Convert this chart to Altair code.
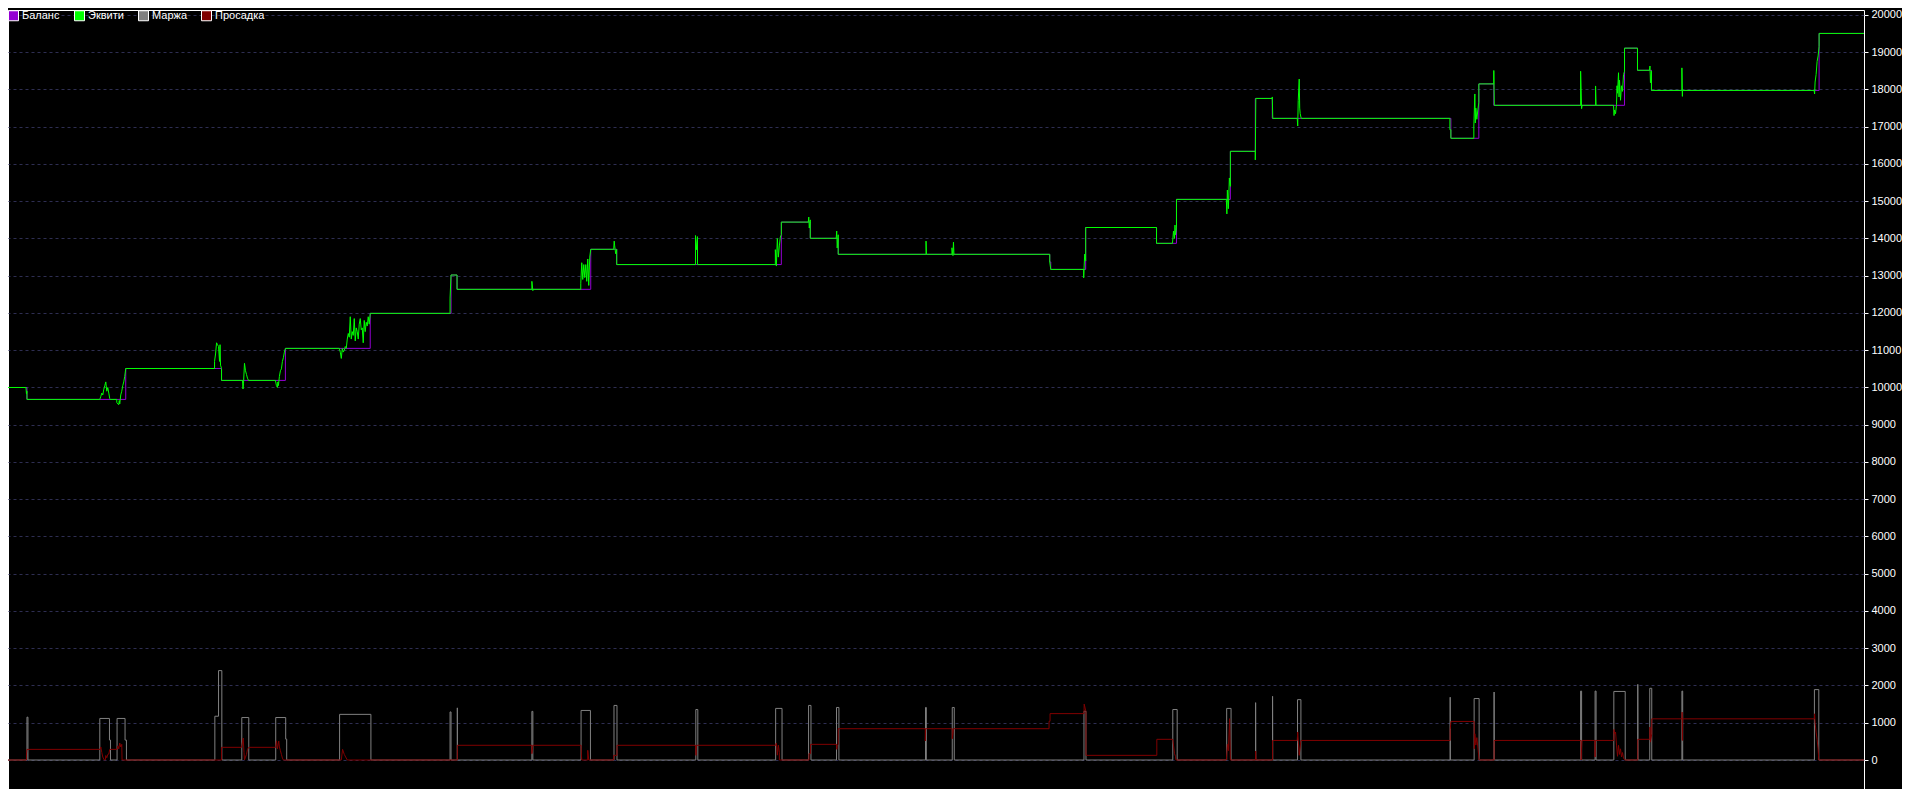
import altair as alt
import pandas as pd

# Series names / colours (legend)
series_names = ["Баланс", "Эквити", "Маржа", "Просадка"]
series_colors = ["#9400D3", "#00FF00", "#808080", "#800000"]

# y-axis tick labels
y_ticks = list(range(0, 20001, 1000))

# Balance: step breakpoints (time index, value)
balance_points = [(1, 10000), (27, 9680), (126, 10510), (222, 10190), (286, 11050), (371, 11990),
                  (452, 13020), (458, 12635), (592, 13710), (618, 13300), (783, 14440), (812, 14005),
                  (840, 13575), (1052, 13370), (1053, 13170), (1088, 14295), (1159, 13870), (1179, 15050),
                  (1233, 16340), (1258, 17760), (1275, 17225), (1454, 16690), (1482, 18150), (1497, 17575),
                  (1628, 19110), (1641, 18515), (1655, 17975), (1823, 19505), (1868, 19505)]

# Equity: path points (time index, value)
equity_points = [
    (1, 10000), (26, 10000), (26.5, 9830), (27, 9900), (27, 9680),
    (100, 9680), (101, 9760), (102, 9850), (103, 9800), (104, 9950), (105, 10050), (106, 10150), (107, 9900),
    (108, 10000), (109, 9850), (110, 9700), (110.5, 9680),
    (117, 9680), (117, 9600), (118, 9560), (119, 9540), (119.5, 9650), (120, 9560), (121, 9800), (122, 9900),
    (123, 10050), (124, 10150), (125, 10300), (126, 10510),
    (215, 10510), (215, 10700), (216, 10900), (217, 11200), (218, 11150), (219, 11100), (220, 10700),
    (220.5, 11150), (221, 10600), (222, 10510), (222, 10190),
    (243, 10190), (243.5, 9960), (244, 10100), (245, 10650), (246, 10450), (247, 10350), (248, 10250), (249, 10190),
    (276, 10190), (277, 10050), (278, 10000), (278.5, 10150), (279, 10050), (280, 10300), (281, 10450),
    (282, 10500), (283, 10700), (284, 10800), (285, 10950), (286, 11050),
    (340, 11050), (341, 10950), (342, 10780), (343, 11050), (344, 10950), (345, 11000), (346, 11100),
    (347, 11050), (348, 11300), (349, 11450), (350, 11350), (351, 11900), (352, 11300), (353, 11500),
    (354, 11400), (355, 11850), (356, 11250), (357, 11600), (358, 11500), (359, 11300), (360, 11700),
    (361, 11850), (362, 11550), (363, 11600), (364, 11200), (365, 11800), (366, 11500), (367, 11750),
    (368, 11650), (369, 11900), (370, 11700), (371, 11990),
    (451, 11990), (451, 12400), (452, 13020), (458, 13020), (458, 12635),
    (533, 12635), (533, 12850), (534, 12600), (534, 12635),
    (582, 12635), (582, 12800), (583, 13350), (584, 12900), (585, 13300), (586, 12950), (587, 13300),
    (588, 12850), (589, 13450), (590, 12740), (591, 13500), (592, 13710),
    (615, 13710), (615.5, 13930), (616, 13800), (617, 13590), (618, 13710), (618, 13300),
    (697, 13300), (697, 14080), (698, 13700), (699, 14050), (699, 13300),
    (777, 13300), (777, 13700), (778, 13260), (779, 14000), (780, 13500), (781, 13800), (782, 14040),
    (783, 14100), (783, 14440),
    (810, 14440), (810.5, 14575), (811, 14280), (812, 14500), (812, 14005),
    (838, 14005), (838.5, 14200), (839, 13745), (840, 14100), (840, 13575),
    (928, 13575), (928, 13930), (928.5, 13575),
    (954, 13575), (954, 13750), (955, 13540), (955.5, 13900), (956, 13575),
    (1052, 13575), (1052, 13370), (1053, 13170),
    (1086, 13170), (1086, 12945), (1087, 13580), (1088, 13400), (1088, 14295),
    (1159, 14295), (1159, 13870),
    (1175, 13870), (1176, 14200), (1177, 14000), (1177.5, 14360), (1178, 14100), (1179, 14300), (1179, 15050),
    (1229, 15050), (1229.5, 14660), (1230, 15300), (1231, 14800), (1232, 15625), (1233, 15400), (1233, 16340),
    (1258, 16340), (1258, 16110), (1258.5, 17760),
    (1275, 17760), (1275, 17800), (1275.5, 17225),
    (1300, 17225), (1300.5, 17020), (1301, 17700), (1302, 18280), (1302.5, 17500), (1303, 17350), (1304, 17225),
    (1453, 17225), (1453, 16920), (1454, 16920), (1454, 16690),
    (1477, 16690), (1477, 17020), (1478, 17880), (1478.5, 17100), (1479, 17500), (1480, 17200),
    (1481, 17450), (1482, 17650), (1482, 18150),
    (1497, 18150), (1497, 18510), (1497.5, 17575),
    (1584, 17575), (1584, 18490), (1585, 17485), (1585.5, 17575),
    (1599, 17575), (1599, 18095), (1599.5, 17575),
    (1617, 17575), (1617.5, 17300), (1618, 17450), (1619, 17350), (1620, 17600), (1620.5, 18100),
    (1621, 17900), (1622, 18450), (1622.5, 17800), (1623, 18250), (1624, 17710), (1625, 18100),
    (1626, 17950), (1627, 18400), (1628, 18490), (1628, 19110),
    (1641, 19110), (1641, 18515),
    (1653, 18515), (1653.5, 18630), (1654, 18180), (1655, 18500), (1655, 17975),
    (1685.5, 17975), (1685.5, 18580), (1686, 17815), (1686, 17975),
    (1818, 17975), (1818.5, 17880), (1819, 18200), (1820, 18400), (1821, 18750), (1822, 18900),
    (1823, 19150), (1823, 19505),
    (1868, 19505)]

# Margin: path points (time index, value)
margin_points = [
    (1, 0), (27, 0), (27, 1150), (28, 1150), (28, 0),
    (100, 0), (100, 1115), (109.7, 1115), (109.7, 535), (110.7, 535), (110.7, 0),
    (117.3, 0), (117.3, 1115), (125.3, 1115), (125.3, 535), (126.7, 535), (126.7, 0),
    (215.3, 0), (215.3, 1175), (219, 1175), (219, 2400), (222.3, 2400), (222.3, 0),
    (242.3, 0), (242.3, 1140), (249.3, 1140), (249.3, 0),
    (276.3, 0), (276.3, 1140), (286.3, 1140), (286.3, 560), (287.3, 560), (287.3, 0),
    (340.3, 0), (340.3, 1225), (371.7, 1225), (371.7, 0),
    (451, 0), (451, 1290), (452, 1290), (452, 0),
    (458.3, 0), (458.3, 1400), (458.4, 0),
    (533, 0), (533, 1305), (534, 1305), (534, 0),
    (582.3, 0), (582.3, 1330), (591.7, 1330), (591.7, 0),
    (615.3, 0), (615.3, 1465), (618.3, 1465), (618.3, 0),
    (697.3, 0), (697.3, 1355), (699.3, 1355), (699.3, 0),
    (777.3, 0), (777.3, 1385), (783.7, 1385), (783.7, 0),
    (810.3, 0), (810.3, 1465), (812.7, 1465), (812.7, 0),
    (838.3, 0), (838.3, 1410), (840.7, 1410), (840.7, 0),
    (927.5, 0), (927.5, 1410), (928.3, 1410), (928.3, 0),
    (954.3, 0), (954.3, 1410), (956.3, 1410), (956.3, 0),
    (1086.3, 0), (1086.3, 1310), (1088.3, 1310), (1088.3, 0),
    (1175.3, 0), (1175.3, 1355), (1179.7, 1355), (1179.7, 0),
    (1229.3, 0), (1229.3, 1385), (1233.7, 1385), (1233.7, 0),
    (1258.3, 0), (1258.3, 1540), (1258.4, 0),
    (1275.3, 0), (1275.3, 1710), (1275.4, 0),
    (1300.3, 0), (1300.3, 1620), (1303.7, 1620), (1303.7, 0),
    (1453.3, 0), (1453.3, 1685), (1453.4, 0),
    (1477.3, 0), (1477.3, 1650), (1482.3, 1650), (1482.3, 0),
    (1497.3, 0), (1497.3, 1825), (1497.4, 0),
    (1584, 0), (1584, 1850), (1585, 1850), (1585, 0),
    (1598.5, 0), (1598.5, 1850), (1599.5, 1850), (1599.5, 0),
    (1617.3, 0), (1617.3, 1840), (1628.7, 1840), (1628.7, 0),
    (1641.3, 0), (1641.3, 2030), (1641.4, 0),
    (1653.3, 0), (1653.3, 1925), (1655.3, 1925), (1655.3, 0),
    (1685.5, 0), (1685.5, 1850), (1686.3, 1850), (1686.3, 0),
    (1818.3, 0), (1818.3, 1890), (1822.7, 1890), (1822.7, 0),
    (1868, 0)]

# Drawdown: path points (time index, value)
drawdown_points = [
    (1, 0), (26.5, 0), (26.5, 160), (27, 285), (100.3, 285), (101, 350), (102, 200), (103, 80), (104.5, 0),
    (105.5, 0), (106, 120), (107, 60), (108, 150), (109, 160), (110, 285), (117.3, 285), (118, 380),
    (119, 300), (120, 455), (121, 350), (122, 420), (122.3, 0),
    (222, 0), (222, 340), (242, 340), (243.7, 590), (244.5, 200), (245, 0), (246, 80), (247, 150),
    (248, 285), (249.3, 340), (276.3, 340), (277, 515), (278, 300), (279.3, 510), (280, 350), (281, 250),
    (282, 150), (283, 50), (284, 0),
    (342, 0), (343.3, 285), (345, 150), (348, 0),
    (458.3, 0), (458.3, 395), (533, 395), (533, 170), (534, 395),
    (582.3, 395), (582.5, 215), (583, 0), (589, 0), (589, 260), (590, 0),
    (615, 0), (615, 125), (618.3, 125), (618.3, 395),
    (697, 395), (697.5, 125), (698, 395),
    (777.3, 395), (778, 455), (779, 130), (780, 400), (781, 200), (781, 0),
    (810.7, 0), (810.7, 170), (812.3, 170), (812.3, 420),
    (838.3, 420), (838.6, 285), (839, 380), (840, 420), (840, 840),
    (927.3, 840), (927.3, 510), (927.6, 840),
    (954.3, 840), (954.3, 570), (955, 700), (955.5, 840),
    (1051.3, 840), (1051.3, 1040), (1052.3, 1040), (1052.3, 1245),
    (1086.3, 1245), (1086.5, 1500), (1088.3, 1300), (1088.3, 125),
    (1159.3, 125), (1159.3, 555),
    (1175.3, 555), (1176, 400), (1177, 170), (1178, 100), (1178.5, 0),
    (1229, 0), (1230, 420), (1231, 250), (1232.3, 1110), (1233, 0),
    (1258.3, 0), (1258.3, 240), (1258.7, 0),
    (1275.3, 0), (1275.3, 525),
    (1300, 525), (1300.5, 750), (1302, 125), (1303.7, 525),
    (1453.3, 525), (1453.3, 810), (1454, 1035),
    (1477.3, 1035), (1477.5, 300), (1478, 705), (1479, 400), (1480, 600), (1481, 350), (1482.3, 0),
    (1497.3, 0), (1497.3, 525),
    (1584.3, 525), (1584.5, 0), (1585.3, 525),
    (1598.3, 525), (1598.5, 80), (1598.8, 525),
    (1617.3, 525), (1617.5, 820), (1618, 700), (1619, 750), (1620, 400), (1621, 100), (1622, 395),
    (1623, 150), (1624, 300), (1625, 80), (1626, 200), (1627, 50), (1628.3, 0),
    (1641.3, 0), (1641.3, 555),
    (1653.3, 555), (1653.5, 885), (1654, 480), (1655.3, 700), (1655.3, 1105),
    (1685.7, 1105), (1685.7, 1285), (1686, 525), (1686.3, 1105),
    (1818.3, 1105), (1818.5, 1240), (1819, 1000), (1820, 750), (1821, 550), (1822, 300), (1822.7, 0),
    (1868, 0)]


def frame(points, name):
    return pd.DataFrame({
        "t": [p[0] for p in points],
        "v": [p[1] for p in points],
        "i": list(range(len(points))),
        "series": name,
    })


FONT = "Liberation Sans"

x_enc = alt.X("t:Q", scale=alt.Scale(domain=[8, 1868], nice=False, zero=False), axis=None)
y_enc = alt.Y(
    "v:Q",
    scale=alt.Scale(domain=[-778.5, 20134], nice=False, zero=False),
    axis=alt.Axis(
        orient="right", values=y_ticks, format="d", title=None,
        labelColor="white", labelFont=FONT, labelFontSize=11, labelPadding=3,
        labelFlush=False, labelOverlap=False,
        tickColor="white", tickSize=4, tickWidth=1,
        domain=False, grid=True, gridColor="#2e2e52", gridDash=[3, 3], gridWidth=1,
    ),
)
order = alt.Order("i:Q")

margin_line = alt.Chart(frame(margin_points, series_names[2])).mark_line(
    color=series_colors[2], strokeWidth=1, clip=True
).encode(x=x_enc, y=y_enc, order=order)

drawdown_line = alt.Chart(frame(drawdown_points, series_names[3])).mark_line(
    color=series_colors[3], strokeWidth=1, clip=True
).encode(x=x_enc, y=y_enc, order=order)

balance_line = alt.Chart(frame(balance_points, series_names[0])).mark_line(
    color=series_colors[0], strokeWidth=1, clip=True, interpolate="step-after"
).encode(x=x_enc, y=y_enc, order=order)

equity_line = alt.Chart(frame(equity_points, series_names[1])).mark_line(
    color=series_colors[1], strokeWidth=1, clip=True
).encode(x=x_enc, y=y_enc, order=order)

legend_layer = alt.Chart(pd.DataFrame({"series": series_names})).mark_square(
    opacity=1, filled=True
).encode(
    fill=alt.Fill(
        "series:N",
        scale=alt.Scale(domain=series_names, range=series_colors),
        sort=series_names,
        legend=alt.Legend(
            orient="none", legendX=0, legendY=0, direction="horizontal", title=None,
            symbolType="square", symbolSize=100, symbolStrokeColor="white", symbolStrokeWidth=1,
            symbolOpacity=1, labelColor="white", labelFont=FONT, labelFontSize=11,
            labelOffset=3, columnPadding=12, padding=0,
        ),
    )
).transform_filter("false")

chart = alt.layer(
    margin_line, drawdown_line, balance_line, equity_line, legend_layer
).properties(
    width=1856, height=779, background="black", padding=0
).configure_view(
    stroke="white", strokeWidth=1
)

chart.save("out.html", embed_options={"renderer": "svg", "actions": False})
